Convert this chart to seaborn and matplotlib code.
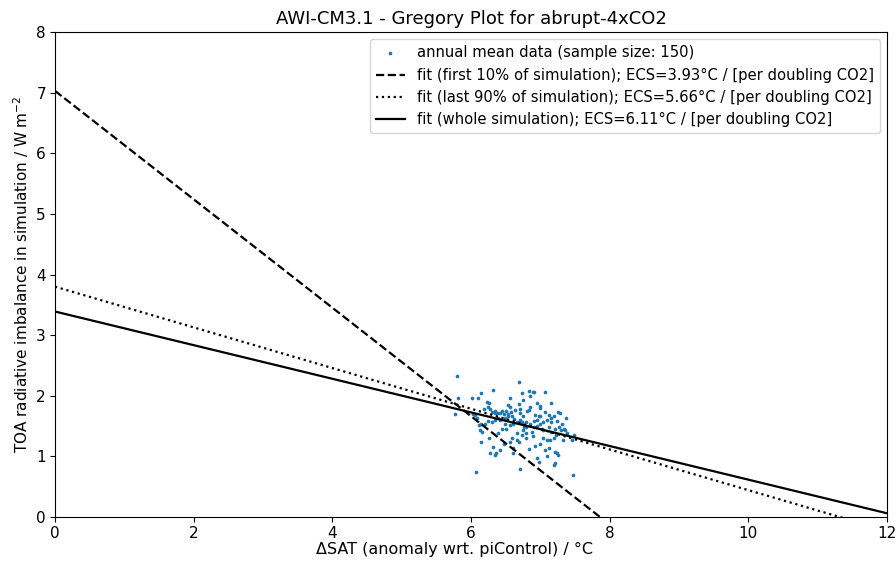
import numpy as np
import pandas as pd
import matplotlib
matplotlib.use('Agg')
import matplotlib.pyplot as plt
import seaborn as sns

# annual means (150 years)
dsat = [5.80, 6.69, 6.32, 6.15, 6.02, 6.10, 5.81, 6.56, 6.83, 6.89,
        6.91, 7.07, 6.74, 6.85, 6.75, 6.69, 6.53, 6.56, 6.23, 6.26,
        6.24, 6.28, 6.18, 6.35, 6.45, 6.51, 6.57, 6.54, 6.48, 6.42,
        6.38, 6.34, 6.30, 6.59, 6.62, 6.71, 6.75, 6.81, 6.84, 6.85,
        6.95, 6.99, 7.00, 7.15, 7.25, 7.37, 7.19, 7.15, 7.24, 7.27,
        7.34, 7.30, 7.21, 7.09, 7.04, 6.98, 6.95, 6.99, 6.95, 6.91,
        6.85, 6.80, 6.75, 6.73, 6.71, 6.66, 6.60, 6.56, 6.49, 6.42,
        6.35, 6.30, 6.24, 6.20, 6.15, 6.12, 6.06, 6.08, 5.77, 6.03,
        6.13, 6.16, 6.26, 6.14, 6.32, 6.27, 6.35, 6.36, 6.42, 6.47,
        6.59, 6.56, 6.60, 6.69, 6.73, 6.80, 6.83, 6.92, 6.99, 7.04,
        7.09, 7.14, 7.19, 7.23, 7.12, 7.21, 7.24, 7.26, 7.09, 6.95,
        6.98, 7.19, 7.21, 6.70, 6.07, 7.47, 6.61, 6.76, 6.80, 6.88,
        6.66, 6.51, 6.44, 6.39, 7.04, 7.13, 7.16, 7.31, 7.36, 7.07,
        7.12, 6.92, 6.99, 6.49, 6.39, 7.28, 7.16, 6.63, 6.79, 6.71,
        6.91, 7.03, 7.38, 7.45, 7.33, 7.48, 6.54, 6.90, 6.66, 7.07]
toa = [2.33, 2.22, 2.09, 2.04, 1.97, 1.97, 1.97, 1.97, 2.08, 2.06,
       2.06, 2.06, 2.05, 1.99, 1.93, 1.86, 1.85, 1.82, 1.90, 1.88,
       1.82, 1.79, 1.79, 1.75, 1.75, 1.75, 1.74, 1.70, 1.70, 1.72,
       1.71, 1.71, 1.73, 1.66, 1.62, 1.71, 1.67, 1.75, 1.76, 1.82,
       1.88, 1.83, 1.80, 1.88, 1.74, 1.64, 1.66, 1.63, 1.58, 1.48,
       1.46, 1.44, 1.45, 1.60, 1.56, 1.67, 1.60, 1.54, 1.50, 1.48,
       1.54, 1.48, 1.44, 1.56, 1.60, 1.57, 1.54, 1.52, 1.53, 1.60,
       1.60, 1.57, 1.59, 1.54, 1.53, 1.52, 1.68, 1.64, 1.70, 1.70,
       1.44, 1.41, 1.31, 1.23, 1.16, 1.05, 1.03, 1.05, 1.11, 1.20,
       1.31, 1.23, 1.14, 1.23, 1.35, 1.30, 1.13, 1.17, 1.20, 1.31,
       1.27, 1.27, 1.31, 1.36, 1.14, 1.08, 1.05, 1.02, 1.01, 0.97,
       0.91, 0.86, 0.89, 0.80, 0.75, 0.70, 1.05, 1.49, 1.38, 1.41,
       1.38, 1.46, 1.46, 1.38, 1.44, 1.48, 1.41, 1.54, 1.44, 1.74,
       1.68, 1.68, 1.66, 1.64, 1.64, 1.71, 1.57, 1.77, 1.57, 1.79,
       1.58, 1.46, 1.38, 1.27, 1.27, 1.35, 1.66, 1.33, 1.27, 1.11]

# regression fits (intercept, slope) and ECS values
fit_names = ['first 10% of simulation', 'last 90% of simulation', 'whole simulation']
fit_intercepts = [7.03, 3.80, 3.39]
fit_slopes = [-0.8944, -0.3357, -0.2774]
fit_ecs = [3.93, 5.66, 6.11]
fit_styles = ['--', ':', '-']

df = pd.DataFrame({'dsat': dsat, 'toa': toa})

fig, ax = plt.subplots(figsize=(8.96, 5.63), dpi=100)
fig.subplots_adjust(left=0.0614, right=0.99, top=0.943, bottom=0.0817)

sns.scatterplot(data=df, x='dsat', y='toa', s=7, linewidth=0, color='C0',
                label='annual mean data (sample size: %d)' % len(df), ax=ax)

xx = np.linspace(0, 12, 200)
for name, b, m, ecs, ls in zip(fit_names, fit_intercepts, fit_slopes, fit_ecs, fit_styles):
    sns.lineplot(x=xx, y=b + m * xx, color='black', linestyle=ls, linewidth=1.6,
                 label='fit (%s); ECS=%.2f°C / [per doubling CO2]' % (name, ecs), ax=ax)

ax.set_xlim(0, 12)
ax.set_ylim(0, 8)
ax.set_xlabel('ΔSAT (anomaly wrt. piControl) / °C', fontsize=11.5, x=0.48, labelpad=1)
ax.set_ylabel(r'TOA radiative imbalance in simulation / W m$^{-2}$', fontsize=11)
ax.set_title('AWI-CM3.1 - Gregory Plot for abrupt-4xCO2', fontsize=13)
ax.tick_params(labelsize=11, pad=3)
ax.legend(loc='upper right', fontsize=10.6)

fig.savefig('out.png', dpi=100)
